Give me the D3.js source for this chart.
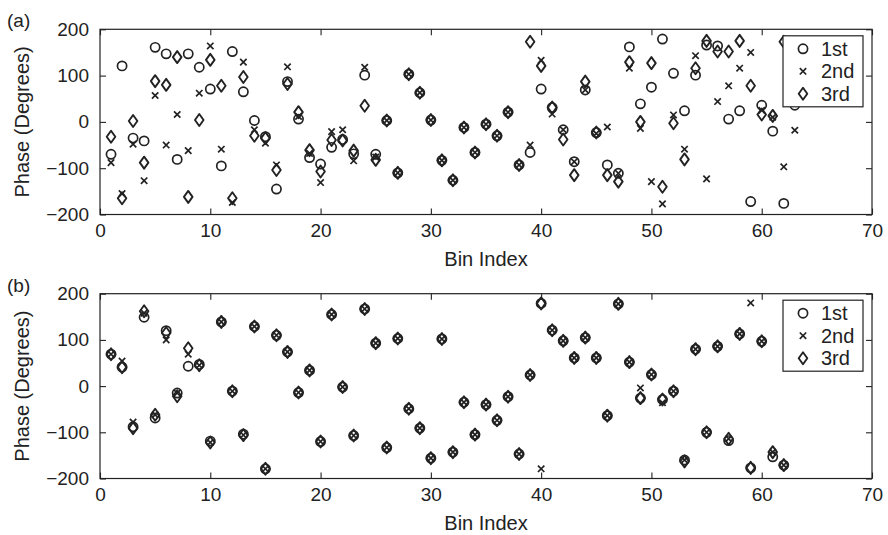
<!DOCTYPE html>
<html>
<head>
<meta charset="utf-8">
<script src="https://cdn.jsdelivr.net/npm/d3@7"></script>
<style>
  body { margin: 0; background: #fff; }
  text { font-family: "Liberation Sans", Arial, Helvetica, sans-serif; fill: #222; }
</style>
</head>
<body>
<svg id="chart" width="888" height="535"></svg>
<script>
// ---------- data ----------
const seriesNames = ["1st", "2nd", "3rd"];
const xTicks = [0, 10, 20, 30, 40, 50, 60, 70];
const yTicks = [-200, -100, 0, 100, 200];
const yTickLabels = ["\u2212200", "\u2212100", "0", "100", "200"];

// Panel (a): bins 1..63
const a1st = [-70,121,-35,-41,161,147,-81,147,118,71,-95,152,65,3,-32,-145,87,6,-77,-91,-55,-38,-69,101,-70,3,-110,103,63,4,-83,-126,-12,-66,-5,-30,21,-93,-66,71,31,-17,-86,69,-23,-93,-111,162,39,75,179,105,24,101,166,164,6,24,-172,36,-20,-176,36];
const a2nd = [-88,-155,-48,-127,57,-50,16,-62,62,164,-59,-174,129,-17,-46,-93,119,12,-68,-131,-21,-17,-84,118,-76,3,-110,103,63,4,-83,-126,-12,-66,-5,-30,21,-93,-50,133,17,-17,-86,69,-25,-11,-111,116,-14,-129,-177,15,-59,143,-123,44,78,116,150,25,10,-97,-18];
const a3rd = [-32,-165,2,-88,88,80,140,-162,4,134,78,-165,97,-30,-35,-104,82,21,-61,-107,-39,-40,-62,35,-82,3,-110,103,63,4,-83,-126,-12,-66,-5,-30,21,-93,173,121,31,-38,-115,87,-23,-115,-129,129,0,127,-140,-3,-81,116,175,152,152,175,78,16,13,173,100];

// Panel (b): bins 1..62
const b1st = [69,41,-88,149,-69,120,-15,43,47,-119,139,-11,-104,129,-179,110,74,-14,34,-120,155,-2,-107,167,93,-133,103,-49,-91,-156,102,-143,-35,-105,-40,-74,-23,-147,24,179,121,98,61,105,61,-64,178,52,-26,25,-29,-11,-160,80,-100,86,-118,113,-177,97,-153,-171];
const b2nd = [69,54,-78,158,-62,100,-15,69,45,-122,139,-11,-106,129,-179,110,74,-14,34,-120,155,-2,-107,167,93,-133,103,-49,-91,-156,102,-143,-35,-105,-40,-74,-23,-147,24,-179,121,98,61,105,61,-64,178,52,-4,25,-36,-11,-160,80,-100,86,-114,113,180,97,-143,-171];
const b3rd = [69,41,-91,162,-62,115,-22,82,45,-122,139,-11,-106,129,-179,110,74,-14,34,-120,155,-2,-107,167,93,-133,103,-49,-91,-156,102,-143,-35,-105,-40,-74,-23,-147,24,179,121,98,61,105,61,-64,178,52,-26,25,-29,-11,-163,80,-100,86,-114,113,-177,97,-143,-171];

const panels = [
  { label: "(a)", top: 29.3, bottom: 214.5, series: [a1st, a2nd, a3rd] },
  { label: "(b)", top: 293.7, bottom: 478.5, series: [b1st, b2nd, b3rd] }
];

// ---------- drawing ----------
const svg = d3.select("#chart");
const left = 100, right = 872;
const ink = "#222";
const fs = 19;

function drawMarker(g, type, x, y) {
  if (type === 0) {
    g.append("circle").attr("cx", x).attr("cy", y).attr("r", 4.6)
      .attr("fill", "none").attr("stroke", ink).attr("stroke-width", 1.7);
  } else if (type === 1) {
    const s = 3.2;
    g.append("path").attr("d", `M${x-s},${y-s}L${x+s},${y+s}M${x-s},${y+s}L${x+s},${y-s}`)
      .attr("stroke", ink).attr("stroke-width", 1.7).attr("fill", "none");
  } else {
    const w = 4.3, h = 6;
    g.append("path").attr("d", `M${x},${y-h}L${x+w},${y}L${x},${y+h}L${x-w},${y}Z`)
      .attr("fill", "none").attr("stroke", ink).attr("stroke-width", 1.9).attr("stroke-linejoin", "round");
  }
}

panels.forEach(p => {
  const x = d3.scaleLinear().domain([0, 70]).range([left, right]);
  const y = d3.scaleLinear().domain([-200, 200]).range([p.bottom, p.top]);
  const g = svg.append("g");

  // box
  g.append("rect").attr("x", left).attr("y", p.top).attr("width", right - left).attr("height", p.bottom - p.top)
    .attr("fill", "none").attr("stroke", ink).attr("stroke-width", 1.2);

  const fmtY = d => yTickLabels[yTicks.indexOf(d)];
  const styleAxis = sel => {
    sel.select(".domain").remove();
    sel.selectAll(".tick line").attr("stroke", ink).attr("stroke-width", 1.1);
    sel.selectAll(".tick text").style("font-size", fs + "px").attr("fill", ink)
      .style("font-family", '"Liberation Sans", Arial, sans-serif');
  };

  g.append("g").attr("transform", `translate(0,${p.bottom})`)
    .call(d3.axisBottom(x).tickValues(xTicks).tickSize(-6).tickPadding(9).tickFormat(d3.format("d")))
    .call(styleAxis);
  g.append("g").attr("transform", `translate(0,${p.top})`)
    .call(d3.axisTop(x).tickValues(xTicks).tickSize(-6).tickFormat(""))
    .call(styleAxis);
  g.append("g").attr("transform", `translate(${left},0)`)
    .call(d3.axisLeft(y).tickValues(yTicks).tickSize(-6).tickPadding(11).tickFormat(fmtY))
    .call(styleAxis);
  g.append("g").attr("transform", `translate(${right},0)`)
    .call(d3.axisRight(y).tickValues(yTicks).tickSize(-6).tickFormat(""))
    .call(styleAxis);

  // markers
  p.series.forEach((vals, si) => {
    const mg = g.append("g");
    vals.forEach((v, i) => drawMarker(mg, si, x(i + 1), y(v)));
  });

  // legend
  const lx = 783, ly = p.top + 6.5, lw = 80, lh = 71;
  const lg = g.append("g");
  lg.append("rect").attr("x", lx).attr("y", ly).attr("width", lw).attr("height", lh)
    .attr("fill", "#fff").attr("stroke", ink).attr("stroke-width", 1.2);
  seriesNames.forEach((n, i) => {
    const cy = ly + 13 + i * 22.5;
    drawMarker(lg, i, lx + 20, cy);
    lg.append("text").attr("x", lx + 38).attr("y", cy + 7).style("font-size", "20px").text(n);
  });

  // titles
  g.append("text").attr("x", (left + right) / 2).attr("y", p.bottom + 51)
    .attr("text-anchor", "middle").style("font-size", "20px").text("Bin Index");
  g.append("text").attr("transform", `translate(29,${(p.top + p.bottom) / 2}) rotate(-90)`)
    .attr("text-anchor", "middle").style("font-size", "20px").text("Phase (Degrees)");
  g.append("text").attr("x", 7).attr("y", p.top - 2).style("font-size", "19px").text(p.label);
});
</script>
</body>
</html>
